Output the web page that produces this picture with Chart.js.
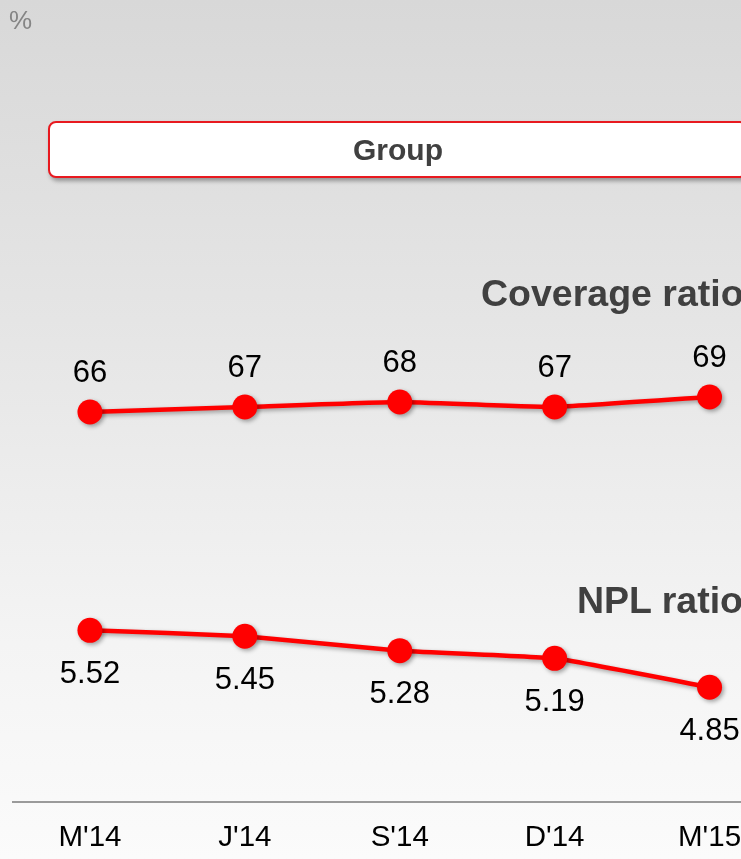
<!DOCTYPE html>
<html>
<head>
<meta charset="utf-8">
<script src="https://cdn.jsdelivr.net/npm/chart.js@4.4.1/dist/chart.umd.min.js"></script>
<style>
  html, body { margin: 0; padding: 0; }
  body {
    width: 741px; height: 859px; overflow: hidden; position: relative;
    background: linear-gradient(to bottom, #d8d8d8 0%, #e6e6e6 40%, #f4f4f4 75%, #fbfbfb 100%);
    font-family: "Liberation Sans", Arial, sans-serif;
  }
  #chart { position: absolute; left: 0; top: 0; }
  .unit { position: absolute; left: 9px; top: 5px; font-size: 26px; color: #858585; }
  .group {
    position: absolute; left: 48px; top: 121px; width: 696px; height: 53px;
    background: #fff; border: 2px solid #e8191f; border-radius: 8px;
    box-shadow: 2px 3px 4px rgba(0,0,0,0.35);
    text-align: center; line-height: 53px; font-weight: bold; font-size: 30px; color: #404040;
  }
  .serie { position: absolute; font-weight: bold; font-size: 37.5px; color: #404040; white-space: nowrap; }
</style>
</head>
<body>
<canvas id="chart" width="800" height="859"></canvas>
<div class="unit">%</div>
<div class="group">Group</div>
<div class="serie" style="left:481px; top:272px;">Coverage ratio</div>
<div class="serie" style="left:577px; top:579px;">NPL ratio</div>
<script>
// Trimestres
const periodos = ["M'14", "J'14", "S'14", "D'14", "M'15"];
// Ratio de cobertura (%)
const cobertura = [66, 67, 68, 67, 69];
// Ratio de morosidad (%)
const morosidad = [5.52, 5.45, 5.28, 5.19, 4.85];

const ROJO = '#ff0000';

// Sombra suave bajo líneas y puntos
const sombra = {
  id: 'sombra',
  beforeDatasetsDraw(chart) {
    const ctx = chart.ctx;
    ctx.save();
    ctx.shadowColor = 'rgba(0,0,0,0.35)';
    ctx.shadowBlur = 4;
    ctx.shadowOffsetX = 2;
    ctx.shadowOffsetY = 2;
  },
  afterDatasetsDraw(chart) {
    chart.ctx.restore();
  }
};

// Etiquetas con el valor de cada punto
const etiquetas = {
  id: 'etiquetas',
  afterDatasetsDraw(chart) {
    const ctx = chart.ctx;
    ctx.save();
    ctx.font = '31px "Liberation Sans", Arial, sans-serif';
    ctx.fillStyle = '#000';
    ctx.textAlign = 'center';
    ctx.textBaseline = 'middle';
    chart.data.datasets.forEach((ds, i) => {
      const meta = chart.getDatasetMeta(i);
      const dy = ds.etiqueta === 'arriba' ? -39 : 44;
      meta.data.forEach((pt, j) => {
        const v = ds.data[j];
        const txt = ds.decimales ? v.toFixed(ds.decimales) : String(v);
        ctx.fillText(txt, pt.x, pt.y + dy);
      });
    });
    ctx.restore();
  }
};

new Chart(document.getElementById('chart'), {
  type: 'line',
  data: {
    labels: periodos,
    datasets: [{
      label: 'Coverage ratio',
      data: cobertura,
      yAxisID: 'yCob',
      etiqueta: 'arriba',
      decimales: 0
    }, {
      label: 'NPL ratio',
      data: morosidad,
      yAxisID: 'yMor',
      etiqueta: 'abajo',
      decimales: 2
    }]
  },
  options: {
    responsive: false,
    animation: false,
    layout: { padding: { left: 11, right: 13, top: 207, bottom: 8 } },
    elements: {
      line: { borderColor: ROJO, borderWidth: 4.5, tension: 0.1 },
      point: { radius: 12.5, backgroundColor: ROJO, borderColor: ROJO, borderWidth: 0 }
    },
    plugins: { legend: { display: false }, tooltip: { enabled: false } },
    scales: {
      x: {
        offset: true,
        grid: { display: false, drawTicks: false },
        border: { display: true, color: '#9a9a9a', width: 2 },
        ticks: {
          padding: 18,
          color: '#000',
          font: { family: '"Liberation Sans", Arial, sans-serif', size: 29.5 }
        },
        // altura fija del eje para dejar la línea base en su sitio
        afterFit(scale) { scale.height = 49; }
      },
      yCob: { display: false, min: -12, max: 107 },
      yMor: { display: false, min: 3.5, max: 10.5 }
    }
  },
  plugins: [sombra, etiquetas]
});
</script>
</body>
</html>
